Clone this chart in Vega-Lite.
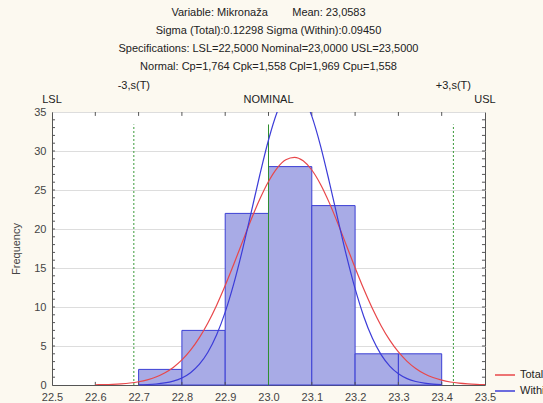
{
  "$schema": "https://vega.github.io/schema/vega-lite/v6.json",
  "width": 433,
  "height": 273,
  "autosize": "none",
  "padding": {"left": 52, "top": 112, "right": 58, "bottom": 18},
  "background": "#fcf9f0",
  "config": {
    "view": {"fill": "white", "stroke": "#555", "strokeWidth": 1},
    "font": "Liberation Sans",
    "axis": {"labelFont": "Liberation Sans", "labelFontSize": 11, "labelColor": "#444", "titleFont": "Liberation Sans", "titleFontWeight": "normal", "titleFontSize": 11, "titleColor": "#444", "domainColor": "#555", "tickColor": "#555", "labelOverlap": false}
  },
  "title": {
    "text": ["Variable: Mikronaža\u00a0\u00a0\u00a0\u00a0\u00a0\u00a0\u00a0\u00a0Mean: 23,0583", "Sigma (Total):0.12298 Sigma (Within):0.09450", "Specifications: LSL=22,5000 Nominal=23,0000 USL=23,5000", "Normal: Cp=1,764 Cpk=1,558 Cpl=1,969 Cpu=1,558"],
    "anchor": "middle",
    "frame": "group",
    "fontSize": 11,
    "fontWeight": "normal",
    "font": "Liberation Sans",
    "color": "#222",
    "lineHeight": 18,
    "offset": 8
  },
  "datasets": {
    "bars": [
      {"x": 22.7, "x2": 22.8, "y": 2, "y2": 0},
      {"x": 22.8, "x2": 22.9, "y": 7, "y2": 0},
      {"x": 22.9, "x2": 23.0, "y": 22, "y2": 0},
      {"x": 23.0, "x2": 23.1, "y": 28, "y2": 0},
      {"x": 23.1, "x2": 23.2, "y": 23, "y2": 0},
      {"x": 23.2, "x2": 23.3, "y": 4, "y2": 0},
      {"x": 23.3, "x2": 23.4, "y": 4, "y2": 0}
    ],
    "curves": [
      {"x": 22.60, "y": 0.028, "s": "Total"},
      {"x": 22.62, "y": 0.051, "s": "Total"},
      {"x": 22.64, "y": 0.090, "s": "Total"},
      {"x": 22.66, "y": 0.154, "s": "Total"},
      {"x": 22.68, "y": 0.257, "s": "Total"},
      {"x": 22.70, "y": 0.419, "s": "Total"},
      {"x": 22.72, "y": 0.663, "s": "Total"},
      {"x": 22.74, "y": 1.025, "s": "Total"},
      {"x": 22.76, "y": 1.541, "s": "Total"},
      {"x": 22.78, "y": 2.255, "s": "Total"},
      {"x": 22.80, "y": 3.216, "s": "Total"},
      {"x": 22.82, "y": 4.467, "s": "Total"},
      {"x": 22.84, "y": 6.042, "s": "Total"},
      {"x": 22.86, "y": 7.957, "s": "Total"},
      {"x": 22.88, "y": 10.207, "s": "Total"},
      {"x": 22.90, "y": 12.751, "s": "Total"},
      {"x": 22.92, "y": 15.514, "s": "Total"},
      {"x": 22.94, "y": 18.381, "s": "Total"},
      {"x": 22.96, "y": 21.213, "s": "Total"},
      {"x": 22.98, "y": 23.839, "s": "Total"},
      {"x": 23.00, "y": 26.093, "s": "Total"},
      {"x": 23.02, "y": 27.814, "s": "Total"},
      {"x": 23.04, "y": 28.875, "s": "Total"},
      {"x": 23.06, "y": 29.193, "s": "Total"},
      {"x": 23.08, "y": 28.745, "s": "Total"},
      {"x": 23.10, "y": 27.565, "s": "Total"},
      {"x": 23.12, "y": 25.743, "s": "Total"},
      {"x": 23.14, "y": 23.414, "s": "Total"},
      {"x": 23.16, "y": 20.739, "s": "Total"},
      {"x": 23.18, "y": 17.893, "s": "Total"},
      {"x": 23.20, "y": 15.033, "s": "Total"},
      {"x": 23.22, "y": 12.299, "s": "Total"},
      {"x": 23.24, "y": 9.802, "s": "Total"},
      {"x": 23.26, "y": 7.607, "s": "Total"},
      {"x": 23.28, "y": 5.750, "s": "Total"},
      {"x": 23.30, "y": 4.233, "s": "Total"},
      {"x": 23.32, "y": 3.034, "s": "Total"},
      {"x": 23.34, "y": 2.118, "s": "Total"},
      {"x": 23.36, "y": 1.440, "s": "Total"},
      {"x": 23.38, "y": 0.954, "s": "Total"},
      {"x": 23.40, "y": 0.615, "s": "Total"},
      {"x": 23.42, "y": 0.386, "s": "Total"},
      {"x": 23.44, "y": 0.236, "s": "Total"},
      {"x": 23.46, "y": 0.141, "s": "Total"},
      {"x": 23.48, "y": 0.082, "s": "Total"},
      {"x": 23.50, "y": 0.046, "s": "Total"},
      {"x": 22.70, "y": 0.029, "s": "Within"},
      {"x": 22.72, "y": 0.063, "s": "Within"},
      {"x": 22.74, "y": 0.131, "s": "Within"},
      {"x": 22.76, "y": 0.261, "s": "Within"},
      {"x": 22.78, "y": 0.497, "s": "Within"},
      {"x": 22.80, "y": 0.907, "s": "Within"},
      {"x": 22.82, "y": 1.581, "s": "Within"},
      {"x": 22.84, "y": 2.637, "s": "Within"},
      {"x": 22.86, "y": 4.205, "s": "Within"},
      {"x": 22.88, "y": 6.408, "s": "Within"},
      {"x": 22.90, "y": 9.341, "s": "Within"},
      {"x": 22.92, "y": 13.022, "s": "Within"},
      {"x": 22.94, "y": 17.356, "s": "Within"},
      {"x": 22.96, "y": 22.119, "s": "Within"},
      {"x": 22.98, "y": 26.956, "s": "Within"},
      {"x": 23.00, "y": 31.411, "s": "Within"},
      {"x": 23.02, "y": 34.999, "s": "Within"},
      {"x": 23.04, "y": 37.289, "s": "Within"},
      {"x": 23.06, "y": 37.994, "s": "Within"},
      {"x": 23.08, "y": 37.006, "s": "Within"},
      {"x": 23.10, "y": 34.470, "s": "Within"},
      {"x": 23.12, "y": 30.701, "s": "Within"},
      {"x": 23.14, "y": 26.146, "s": "Within"},
      {"x": 23.16, "y": 21.292, "s": "Within"},
      {"x": 23.18, "y": 16.580, "s": "Within"},
      {"x": 23.20, "y": 12.345, "s": "Within"},
      {"x": 23.22, "y": 8.789, "s": "Within"},
      {"x": 23.24, "y": 5.984, "s": "Within"},
      {"x": 23.26, "y": 3.895, "s": "Within"},
      {"x": 23.28, "y": 2.424, "s": "Within"},
      {"x": 23.30, "y": 1.443, "s": "Within"},
      {"x": 23.32, "y": 0.821, "s": "Within"},
      {"x": 23.34, "y": 0.447, "s": "Within"},
      {"x": 23.36, "y": 0.233, "s": "Within"},
      {"x": 23.38, "y": 0.116, "s": "Within"},
      {"x": 23.40, "y": 0.055, "s": "Within"}
    ],
    "refs": [
      {"x": 22.689, "y": 0, "y2": 33.4, "kind": "sigma"},
      {"x": 23.427, "y": 0, "y2": 33.4, "kind": "sigma"},
      {"x": 23.0, "y": 0, "y2": 33.4, "kind": "nominal"}
    ],
    "labels": [
      {"x": 22.5, "y": 35, "row": "low", "label": "LSL"},
      {"x": 23.0, "y": 35, "row": "low", "label": "NOMINAL"},
      {"x": 23.5, "y": 35, "row": "low", "label": "USL"},
      {"x": 22.689, "y": 35, "row": "high", "label": "-3,s(T)"},
      {"x": 23.427, "y": 35, "row": "high", "label": "+3,s(T)"}
    ],
    "ticks": [
      {"x": 22.6, "x2": 22.6, "y": 35, "y2": 34.5}, {"x": 22.7, "x2": 22.7, "y": 35, "y2": 34.5},
      {"x": 22.8, "x2": 22.8, "y": 35, "y2": 34.5}, {"x": 22.9, "x2": 22.9, "y": 35, "y2": 34.5},
      {"x": 23.0, "x2": 23.0, "y": 35, "y2": 34.5}, {"x": 23.1, "x2": 23.1, "y": 35, "y2": 34.5},
      {"x": 23.2, "x2": 23.2, "y": 35, "y2": 34.5}, {"x": 23.3, "x2": 23.3, "y": 35, "y2": 34.5},
      {"x": 23.4, "x2": 23.4, "y": 35, "y2": 34.5},
      {"x": 22.6, "x2": 22.6, "y": 0, "y2": 0.4}, {"x": 22.7, "x2": 22.7, "y": 0, "y2": 0.4},
      {"x": 22.8, "x2": 22.8, "y": 0, "y2": 0.4}, {"x": 22.9, "x2": 22.9, "y": 0, "y2": 0.4},
      {"x": 23.0, "x2": 23.0, "y": 0, "y2": 0.4}, {"x": 23.1, "x2": 23.1, "y": 0, "y2": 0.4},
      {"x": 23.2, "x2": 23.2, "y": 0, "y2": 0.4}, {"x": 23.3, "x2": 23.3, "y": 0, "y2": 0.4},
      {"x": 23.4, "x2": 23.4, "y": 0, "y2": 0.4},
      {"x": 22.5, "x2": 22.507, "y": 1, "y2": 1}, {"x": 22.5, "x2": 22.507, "y": 2, "y2": 2},
      {"x": 22.5, "x2": 22.507, "y": 3, "y2": 3}, {"x": 22.5, "x2": 22.507, "y": 4, "y2": 4},
      {"x": 22.5, "x2": 22.507, "y": 5, "y2": 5}, {"x": 22.5, "x2": 22.507, "y": 6, "y2": 6},
      {"x": 22.5, "x2": 22.507, "y": 7, "y2": 7}, {"x": 22.5, "x2": 22.507, "y": 8, "y2": 8},
      {"x": 22.5, "x2": 22.507, "y": 9, "y2": 9}, {"x": 22.5, "x2": 22.507, "y": 10, "y2": 10},
      {"x": 22.5, "x2": 22.507, "y": 11, "y2": 11}, {"x": 22.5, "x2": 22.507, "y": 12, "y2": 12},
      {"x": 22.5, "x2": 22.507, "y": 13, "y2": 13}, {"x": 22.5, "x2": 22.507, "y": 14, "y2": 14},
      {"x": 22.5, "x2": 22.507, "y": 15, "y2": 15}, {"x": 22.5, "x2": 22.507, "y": 16, "y2": 16},
      {"x": 22.5, "x2": 22.507, "y": 17, "y2": 17}, {"x": 22.5, "x2": 22.507, "y": 18, "y2": 18},
      {"x": 22.5, "x2": 22.507, "y": 19, "y2": 19}, {"x": 22.5, "x2": 22.507, "y": 20, "y2": 20},
      {"x": 22.5, "x2": 22.507, "y": 21, "y2": 21}, {"x": 22.5, "x2": 22.507, "y": 22, "y2": 22},
      {"x": 22.5, "x2": 22.507, "y": 23, "y2": 23}, {"x": 22.5, "x2": 22.507, "y": 24, "y2": 24},
      {"x": 22.5, "x2": 22.507, "y": 25, "y2": 25}, {"x": 22.5, "x2": 22.507, "y": 26, "y2": 26},
      {"x": 22.5, "x2": 22.507, "y": 27, "y2": 27}, {"x": 22.5, "x2": 22.507, "y": 28, "y2": 28},
      {"x": 22.5, "x2": 22.507, "y": 29, "y2": 29}, {"x": 22.5, "x2": 22.507, "y": 30, "y2": 30},
      {"x": 22.5, "x2": 22.507, "y": 31, "y2": 31}, {"x": 22.5, "x2": 22.507, "y": 32, "y2": 32},
      {"x": 22.5, "x2": 22.507, "y": 33, "y2": 33}, {"x": 22.5, "x2": 22.507, "y": 34, "y2": 34},
      {"x": 23.5, "x2": 23.493, "y": 1, "y2": 1}, {"x": 23.5, "x2": 23.493, "y": 2, "y2": 2},
      {"x": 23.5, "x2": 23.493, "y": 3, "y2": 3}, {"x": 23.5, "x2": 23.493, "y": 4, "y2": 4},
      {"x": 23.5, "x2": 23.493, "y": 5, "y2": 5}, {"x": 23.5, "x2": 23.493, "y": 6, "y2": 6},
      {"x": 23.5, "x2": 23.493, "y": 7, "y2": 7}, {"x": 23.5, "x2": 23.493, "y": 8, "y2": 8},
      {"x": 23.5, "x2": 23.493, "y": 9, "y2": 9}, {"x": 23.5, "x2": 23.493, "y": 10, "y2": 10},
      {"x": 23.5, "x2": 23.493, "y": 11, "y2": 11}, {"x": 23.5, "x2": 23.493, "y": 12, "y2": 12},
      {"x": 23.5, "x2": 23.493, "y": 13, "y2": 13}, {"x": 23.5, "x2": 23.493, "y": 14, "y2": 14},
      {"x": 23.5, "x2": 23.493, "y": 15, "y2": 15}, {"x": 23.5, "x2": 23.493, "y": 16, "y2": 16},
      {"x": 23.5, "x2": 23.493, "y": 17, "y2": 17}, {"x": 23.5, "x2": 23.493, "y": 18, "y2": 18},
      {"x": 23.5, "x2": 23.493, "y": 19, "y2": 19}, {"x": 23.5, "x2": 23.493, "y": 20, "y2": 20},
      {"x": 23.5, "x2": 23.493, "y": 21, "y2": 21}, {"x": 23.5, "x2": 23.493, "y": 22, "y2": 22},
      {"x": 23.5, "x2": 23.493, "y": 23, "y2": 23}, {"x": 23.5, "x2": 23.493, "y": 24, "y2": 24},
      {"x": 23.5, "x2": 23.493, "y": 25, "y2": 25}, {"x": 23.5, "x2": 23.493, "y": 26, "y2": 26},
      {"x": 23.5, "x2": 23.493, "y": 27, "y2": 27}, {"x": 23.5, "x2": 23.493, "y": 28, "y2": 28},
      {"x": 23.5, "x2": 23.493, "y": 29, "y2": 29}, {"x": 23.5, "x2": 23.493, "y": 30, "y2": 30},
      {"x": 23.5, "x2": 23.493, "y": 31, "y2": 31}, {"x": 23.5, "x2": 23.493, "y": 32, "y2": 32},
      {"x": 23.5, "x2": 23.493, "y": 33, "y2": 33}, {"x": 23.5, "x2": 23.493, "y": 34, "y2": 34}
    ]
  },
  "encoding": {
    "x": {"field": "x", "type": "quantitative", "scale": {"domain": [22.5, 23.5], "nice": false},
      "axis": {"values": [22.5, 22.6, 22.7, 22.8, 22.9, 23.0, 23.1, 23.2, 23.3, 23.4, 23.5], "format": ".1f", "title": null, "grid": false, "tickSize": 0, "labelPadding": 6, "labelFlush": false}},
    "y": {"field": "y", "type": "quantitative", "scale": {"domain": [0, 35], "nice": false},
      "axis": {"values": [0, 5, 10, 15, 20, 25, 30, 35], "title": "Frequency", "titlePadding": 12, "grid": true, "gridColor": "#dddddd", "tickSize": 0, "labelPadding": 6}}
  },
  "layer": [
    {
      "data": {"name": "bars"},
      "mark": {"type": "rect", "fill": "#a8abe6", "stroke": "#3b3fd4", "strokeWidth": 1},
      "encoding": {
        "x2": {"field": "x2"},
        "y2": {"field": "y2"}
      }
    },
    {
      "data": {"name": "ticks"},
      "mark": {"type": "rule", "color": "#555", "strokeWidth": 1},
      "encoding": {
        "x2": {"field": "x2"},
        "y2": {"field": "y2"}
      }
    },
    {
      "data": {"name": "refs"},
      "transform": [{"filter": "datum.kind == 'sigma'"}],
      "mark": {"type": "rule", "color": "#3a9a3a", "strokeWidth": 1, "strokeDash": [2, 2]},
      "encoding": {
        "y2": {"field": "y2"}
      }
    },
    {
      "data": {"name": "refs"},
      "transform": [{"filter": "datum.kind == 'nominal'"}],
      "mark": {"type": "rule", "color": "#2f8f2f", "strokeWidth": 1},
      "encoding": {
        "y2": {"field": "y2"}
      }
    },
    {
      "data": {"name": "curves"},
      "mark": {"type": "line", "strokeWidth": 1.2, "interpolate": "monotone", "clip": true},
      "encoding": {
        "color": {"field": "s", "type": "nominal", "scale": {"domain": ["Total", "Within"], "range": ["#e8474a", "#3c3cd8"]},
          "legend": {"title": null, "orient": "none", "legendX": 442, "legendY": 252, "symbolType": "stroke", "symbolSize": 400, "symbolStrokeWidth": 1.5, "labelFontSize": 11, "labelFont": "Liberation Sans", "labelColor": "#222", "rowPadding": -3, "labelOffset": 4}}
      }
    },
    {
      "data": {"name": "labels"},
      "transform": [{"filter": "datum.row == 'low'"}],
      "mark": {"type": "text", "fontSize": 11, "color": "#222", "dy": -12, "baseline": "middle"},
      "encoding": {
        "text": {"field": "label"}
      }
    },
    {
      "data": {"name": "labels"},
      "transform": [{"filter": "datum.row == 'high'"}],
      "mark": {"type": "text", "fontSize": 11, "color": "#222", "dy": -26, "baseline": "middle"},
      "encoding": {
        "text": {"field": "label"}
      }
    }
  ]
}
